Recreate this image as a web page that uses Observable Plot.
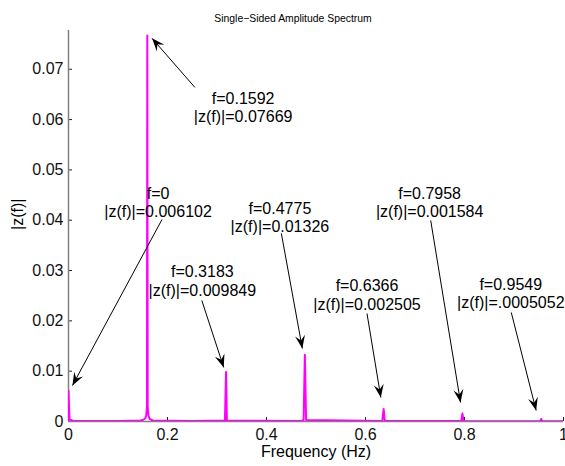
<!DOCTYPE html>
<html><head><meta charset="utf-8">
<script src="https://cdn.jsdelivr.net/npm/d3@7"></script>
<script src="https://cdn.jsdelivr.net/npm/@observablehq/plot@0.6"></script>
<style>body{margin:0;background:#fff}</style>
</head><body><div id="chart"></div>
<script>
// Spectrum samples (frequency in Hz, amplitude |z(f)|)
const freq = [0, 0, 0.002, 0.01, 0.10, 0.145, 0.150, 0.155, 0.157, 0.1585, 0.1592, 0.160, 0.1615, 0.164, 0.17, 0.25, 0.316, 0.3183, 0.320, 0.47, 0.475, 0.4775, 0.480, 0.634, 0.6366, 0.639, 0.7935, 0.7958, 0.798, 0.9525, 0.9549, 0.957, 1.0];
const amp  = [0, 0.006102, 0.0004, 0.0001, 0.0001, 0.0002, 0.0003, 0.0006, 0.0012, 0.003, 0.07669, 0.003, 0.0012, 0.0005, 0.0002, 0.0001, 0.0002, 0.009849, 0.0002, 0.0001, 0.0003, 0.01326, 0.0003, 0.0001, 0.002505, 0.0001, 0.0001, 0.001584, 0.0001, 0.00005, 0.0005052, 0.00005, 0.00005];

// Annotations (text centre, arrow tail, arrow tip — in data units)
const annLabel = ["f=0\n|z(f)|=0.006102", "f=0.1592\n|z(f)|=0.07669", "f=0.3183\n|z(f)|=0.009849", "f=0.4775\n|z(f)|=0.01326", "f=0.6366\n|z(f)|=0.002505", "f=0.7958\n|z(f)|=0.001584", "f=0.9549\n|z(f)|=.0005052"];
const annTextF = [0.181, 0.3528, 0.2704, 0.4271, 0.603, 0.7296, 0.8935];
const annTextV = [0.04364, 0.06252, 0.02803, 0.04066, 0.02525, 0.04364, 0.02555];
const annTailF = [0.189, 0.2553, 0.2693, 0.430, 0.603, 0.7317, 0.8945];
const annTailV = [0.04016, 0.0664, 0.02406, 0.03738, 0.02147, 0.03996, 0.02167];
const annTipF  = [0.008, 0.1688, 0.3136, 0.4724, 0.631, 0.792, 0.9447];
const annTipV  = [0.00716, 0.07614, 0.01074, 0.01451, 0.00477, 0.00378, 0.00219];

const xTicks = [0, 0.2, 0.4, 0.6, 0.8, 1];
const xTickLabels = ["0", "0.2", "0.4", "0.6", "0.8", "1"];
const yTicks = [0, 0.01, 0.02, 0.03, 0.04, 0.05, 0.06, 0.07];
const yTickLabels = ["0", "0.01", "0.02", "0.03", "0.04", "0.05", "0.06", "0.07"];

const titleText = "Single\u2212Sided Amplitude Spectrum";
const xLabel = "Frequency (Hz)";
const yLabel = "|z(f)|";

const spectrum = freq.map((f, i) => ({f, v: amp[i]}));
const ann = annLabel.map((t, i) => ({t, tx: annTextF[i], ty: annTextV[i], x1: annTailF[i], y1: annTailV[i], x2: annTipF[i], y2: annTipV[i]}));

const W = 565, H = 466, mL = 68, mR = 2, mT = 30, mB = 45;
const fw = W - mL - mR, fh = H - mT - mB;

// filled MATLAB-like arrowhead
function filledHead(color) {
  const m = d3.create("svg:marker")
    .attr("viewBox", "-14 -7 16 14")
    .attr("markerWidth", 16).attr("markerHeight", 14)
    .attr("refX", 0).attr("refY", 0)
    .attr("markerUnits", "userSpaceOnUse")
    .attr("orient", "auto")
    .attr("overflow", "visible");
  m.append("path").attr("d", "M0,0 L-13,-5 L-8,0 L-13,5 Z").attr("fill", "#000").attr("stroke", "none");
  return m.node();
}

const chart = Plot.plot({
  width: W, height: H,
  marginLeft: mL, marginRight: mR, marginTop: mT, marginBottom: mB,
  style: {fontFamily: "'Liberation Sans', Arial, Helvetica, sans-serif", fontSize: "16px", color: "#111", background: "#fff", overflow: "visible"},
  x: {domain: [0, 1]},
  y: {domain: [0, 0.0777]},
  marks: [
    Plot.axisX(xTicks, {tickSize: 0, tickPadding: 7, tickFormat: (d, i) => xTickLabels[i], fontSize: 16, label: null}),
    Plot.axisY(yTicks, {tickSize: 0, tickPadding: 5, tickFormat: (d, i) => yTickLabels[i], fontSize: 16, label: null}),
    Plot.tickX(xTicks, {x: d => d, stroke: "#222", insetTop: fh - 4}),
    Plot.tickY(yTicks, {y: d => d, stroke: "#222", insetRight: fw - 4}),
    Plot.ruleX([0], {stroke: "#808080", strokeWidth: 1.5}),
    Plot.ruleY([0], {stroke: "#808080", strokeWidth: 1.5}),
    Plot.line(spectrum, {x: "f", y: "v", stroke: "#ff00ff", strokeWidth: 2, clip: true}),
    Plot.link(ann, {x1: "x1", y1: "y1", x2: "x2", y2: "y2", stroke: "#000", strokeWidth: 1, markerEnd: filledHead}),
    Plot.text(ann, {x: "tx", y: "ty", text: "t", fontSize: 16, lineHeight: 1.15, fill: "#000"}),
    Plot.text([xLabel], {frameAnchor: "bottom", dy: 35, fontSize: 16, fill: "#000"}),
    Plot.text([yLabel], {frameAnchor: "left", dx: -51, dy: 4, rotate: -90, fontSize: 16, fill: "#000"}),
    Plot.text([titleText], {frameAnchor: "top", dx: -23, dy: -16, fontSize: 10.4, fill: "#000"})
  ]
});
document.getElementById("chart").append(chart);
</script>
</body></html>
